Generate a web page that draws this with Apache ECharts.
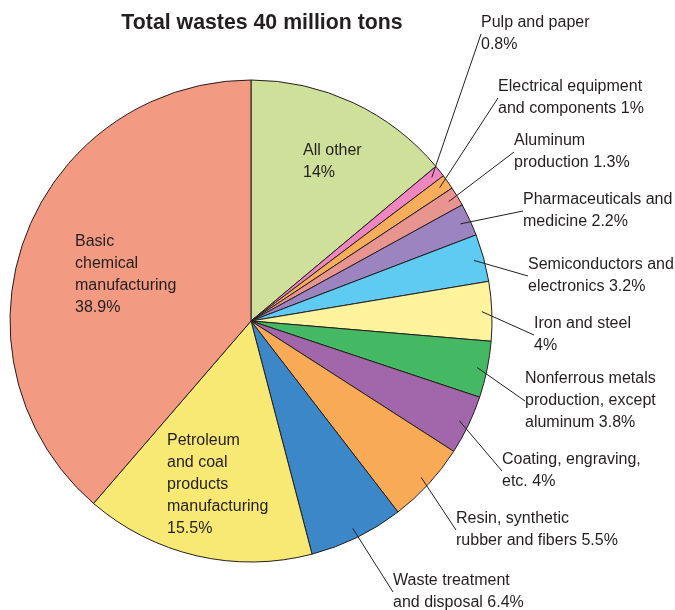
<!DOCTYPE html>
<html>
<head>
<meta charset="utf-8">
<script src="https://cdn.jsdelivr.net/npm/echarts@6/dist/echarts.min.js"></script>
<style>
html,body{margin:0;padding:0;background:#fff;}
#chart{width:675px;height:610px;}
</style>
</head>
<body>
<div id="chart"></div>
<script>
// Data (clockwise from 12 o'clock)
var names = [
  'All other\n',
  'Pulp and paper\n',
  'Electrical equipment\nand components ',
  'Aluminum\nproduction ',
  'Pharmaceuticals and\nmedicine ',
  'Semiconductors and\nelectronics ',
  'Iron and steel\n',
  'Nonferrous metals\nproduction, except\naluminum ',
  'Coating, engraving,\netc. ',
  'Resin, synthetic\nrubber and fibers ',
  'Waste treatment\nand disposal ',
  'Petroleum\nand coal\nproducts\nmanufacturing\n',
  'Basic\nchemical\nmanufacturing\n'
];
var values = [14, 0.8, 1, 1.3, 2.2, 3.2, 4, 3.8, 4, 5.5, 6.4, 15.5, 38.9];
var colors = ['#cfe09b', '#ee87bf', '#f8ad5c', '#e8958f', '#9c84c0', '#5fcaf2', '#fff39e',
              '#45b863', '#a266ab', '#f8aa57', '#3b87c7', '#f8e874', '#f29a82'];
var insideLabel = [true, false, false, false, false, false, false, false, false, false, false, true, true];
var titleText = 'Total wastes 40 million tons';

// label anchor positions (top-left of each label block)
var labelPos = [
  [303, 140], [481, 12], [498, 76], [514, 130], [523, 189], [528, 254], [534, 313],
  [525, 368], [502, 449], [456, 508], [393, 570], [167, 430], [75, 231]
];

var chart = echarts.init(document.getElementById('chart'), null, {renderer: 'canvas'});
var ink = '#231f20';
var font = '"Liberation Sans", Arial, sans-serif';

function makeData(withLabels) {
  return values.map(function (v, i) {
    var d = {name: names[i], value: v, itemStyle: {color: withLabels ? 'rgba(0,0,0,0)' : colors[i]}};
    if (withLabels) {
      d.labelLine = {show: !insideLabel[i]};
    }
    return d;
  });
}

chart.setOption({
  animation: false,
  title: {
    text: titleText,
    left: 257, top: 8, textAlign: 'center',
    textStyle: {fontFamily: font, fontSize: 21.3, fontWeight: 'bold', color: ink}
  },
  series: [
    {
      type: 'pie',
      center: [251, 321],
      radius: 241,
      startAngle: 90,
      clockwise: true,
      silent: true,
      avoidLabelOverlap: false,
      label: {show: false},
      labelLine: {show: false},
      itemStyle: {borderColor: ink, borderWidth: 1},
      data: makeData(false)
    },
    {
      type: 'pie',
      center: [251, 321],
      radius: 231,
      startAngle: 90,
      clockwise: true,
      silent: true,
      avoidLabelOverlap: false,
      itemStyle: {borderWidth: 0},
      label: {
        show: true,
        position: 'outside',
        formatter: '{b}{c}%',
        fontFamily: font,
        fontSize: 16,
        lineHeight: 22,
        color: ink,
        align: 'left'
      },
      labelLine: {
        show: true,
        showAbove: true,
        length: 10,
        length2: 0,
        smooth: false,
        lineStyle: {color: ink, width: 1}
      },
      labelLayout: function (params) {
        var p = labelPos[params.dataIndex];
        return {x: p[0], y: p[1], align: 'left', verticalAlign: 'top'};
      },
      data: makeData(true)
    }
  ]
});
</script>
</body>
</html>
